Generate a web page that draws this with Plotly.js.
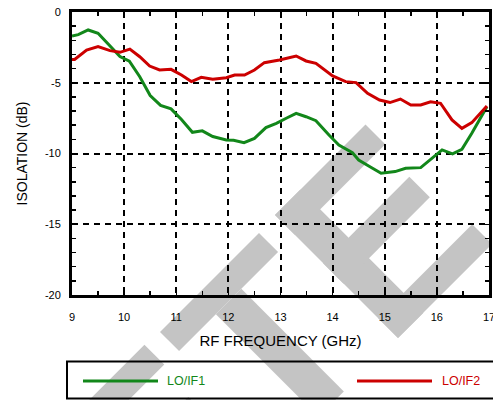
<!DOCTYPE html>
<html>
<head>
<meta charset="utf-8">
<script src="https://cdn.plot.ly/plotly-3.0.1.min.js"></script>
<style>
  html, body { margin: 0; padding: 0; background: #fff; }
  #chart { width: 493px; height: 400px; }
</style>
</head>
<body>
<div id="chart"></div>
<script>
// ---- data ----
const seriesNames = ['LO/IF1', 'LO/IF2'];
const seriesColors = ['#12871a', '#cc0000'];

const freqIF1 = [9.0, 9.12, 9.31, 9.5, 9.92, 10.1, 10.3, 10.5, 10.7, 10.9, 11.1, 11.31, 11.5, 11.7, 11.96, 12.1, 12.3,
  12.5, 12.72, 12.92, 13.11, 13.3, 13.49, 13.68, 13.93, 14.12, 14.38, 14.5, 14.7, 14.93, 15.2, 15.4, 15.69, 15.85,
  16.1, 16.3, 16.48, 16.67, 16.96];
const isoIF1 = [-1.7, -1.6, -1.27, -1.5, -3.15, -3.48, -4.57, -5.9, -6.6, -6.85, -7.6, -8.5, -8.4, -8.8, -9.05, -9.07, -9.23,
  -8.93, -8.17, -7.87, -7.51, -7.16, -7.4, -7.68, -8.69, -9.4, -9.95, -10.46, -10.9, -11.4, -11.28, -11.05, -11.0, -10.5,
  -9.75, -10.03, -9.7, -8.57, -6.69];

const freqIF2 = [9.0, 9.05, 9.28, 9.5, 9.73, 9.92, 10.11, 10.3, 10.49, 10.68, 10.9, 11.1, 11.29, 11.48, 11.7, 11.96, 12.12,
  12.31, 12.5, 12.69, 12.98, 13.14, 13.3, 13.49, 13.68, 14.0, 14.25, 14.45, 14.67, 14.9, 15.1, 15.3, 15.5, 15.69, 15.88,
  16.07, 16.29, 16.48, 16.67, 16.96];
const isoIF2 = [-3.35, -3.35, -2.69, -2.45, -2.73, -2.85, -2.62, -3.16, -3.82, -4.1, -4.05, -4.45, -4.92, -4.62, -4.76, -4.64, -4.45,
  -4.45, -4.1, -3.58, -3.39, -3.23, -3.11, -3.46, -3.63, -4.52, -4.92, -4.99, -5.75, -6.22, -6.4, -6.15, -6.57, -6.57, -6.34,
  -6.45, -7.63, -8.22, -7.82, -6.64];

const xTickVals = [9, 10, 11, 12, 13, 14, 15, 16, 17];
const yTickVals = [0, -5, -10, -15, -20];

// ---- layout geometry (pixels) ----
const W = 493, H = 400;
const M = {l: 72, r: 4, t: 12, b: 105};
const PW = W - M.l - M.r, PH = H - M.t - M.b;
const px2x = p => (p - M.l) / PW;
const py2y = p => (H - M.b - p) / PH;

// ---- watermark (decorative, rotated block letters) ----
const wmColor = '#c4c4c4';
const S = Math.SQRT1_2;
function letterRects(du, dv, rects) {
  return rects.map(r => [r[0] + du, r[1] + du, r[2] + dv, r[3] + dv]);
}
const eRects = [[0, 36, 0, 174], [0, 128, 0, 28], [0, 122, 68, 97], [0, 133, 146, 174]];
const tRects = [[0, 140, 0, 27], [52, 88, 27, 172]];
const wmOrigin = [160, 332];
const allRects = []
  .concat(letterRects(-148, -2, eRects))
  .concat(letterRects(0, 0, tRects))
  .concat(letterRects(164, -1.4, eRects));
function uvToPaper(u, v) {
  const sx = wmOrigin[0] + (u + v) * S;
  const sy = wmOrigin[1] + (v - u) * S;
  return [px2x(sx), py2y(sy)];
}
const wmShapes = allRects.map(r => {
  const pts = [[r[0], r[2]], [r[1], r[2]], [r[1], r[3]], [r[0], r[3]]].map(p => uvToPaper(p[0], p[1]));
  const path = 'M' + pts.map(p => p[0].toFixed(5) + ',' + p[1].toFixed(5)).join(' L') + ' Z';
  return {type: 'path', xref: 'paper', yref: 'paper', path: path, fillcolor: wmColor,
          line: {width: 0}, layer: 'below'};
});

// ---- legend drawn as a boxed row ----
const legY = py2y(381);
const legendShapes = [
  {type: 'rect', xref: 'paper', yref: 'paper', x0: px2x(67), x1: px2x(505), y0: py2y(398.5), y1: py2y(361.5),
   line: {color: '#000', width: 2}, fillcolor: 'rgba(0,0,0,0)', layer: 'above'},
  {type: 'line', xref: 'paper', yref: 'paper', x0: px2x(83), x1: px2x(158), y0: legY, y1: legY,
   line: {color: seriesColors[0], width: 3}, layer: 'above'},
  {type: 'line', xref: 'paper', yref: 'paper', x0: px2x(357), x1: px2x(432), y0: legY, y1: legY,
   line: {color: seriesColors[1], width: 3}, layer: 'above'}
];
const legendAnn = [
  {xref: 'paper', yref: 'paper', x: px2x(165), y: legY, xanchor: 'left', yanchor: 'middle', showarrow: false,
   text: seriesNames[0], font: {family: 'Liberation Sans, Arial, sans-serif', size: 12.5, color: seriesColors[0]}},
  {xref: 'paper', yref: 'paper', x: px2x(440), y: legY, xanchor: 'left', yanchor: 'middle', showarrow: false,
   text: seriesNames[1], font: {family: 'Liberation Sans, Arial, sans-serif', size: 12.5, color: seriesColors[1]}}
];

const traces = [
  {x: freqIF1, y: isoIF1, name: seriesNames[0], type: 'scatter', mode: 'lines',
   line: {color: seriesColors[0], width: 3}},
  {x: freqIF2, y: isoIF2, name: seriesNames[1], type: 'scatter', mode: 'lines',
   line: {color: seriesColors[1], width: 3}}
];

const fontFam = 'Liberation Sans, Arial, Helvetica, sans-serif';
const axisCommon = {
  showline: true, linecolor: '#000', linewidth: 3, mirror: 'allticks',
  showgrid: true, gridcolor: '#000', gridwidth: 2, griddash: '6px,5px',
  zeroline: false, ticks: 'inside', ticklen: 4, tickwidth: 1.5, tickcolor: '#000',
  ticklabeloverflow: 'allow',
  tickfont: {family: fontFam, size: 11, color: '#000'}
};

const layout = {
  width: W, height: H,
  margin: M,
  paper_bgcolor: '#fff', plot_bgcolor: 'rgba(0,0,0,0)',
  showlegend: false,
  xaxis: Object.assign({}, axisCommon, {
    range: [9, 17], tickvals: xTickVals, ticktext: xTickVals.map(String),
    ticklabelstandoff: 10,
    minor: {dtick: 0.5, ticks: 'inside', ticklen: 4, tickwidth: 1.5, tickcolor: '#000', showgrid: false},
    title: {text: 'RF FREQUENCY (GHz)', font: {family: fontFam, size: 15, color: '#000'}, standoff: 14}
  }),
  yaxis: Object.assign({}, axisCommon, {
    range: [-20, 0], tickvals: yTickVals, ticktext: yTickVals.map(String),
    ticklabelstandoff: 6,
    minor: {dtick: 1, ticks: 'inside', ticklen: 4, tickwidth: 1.5, tickcolor: '#000', showgrid: false},
    title: {text: 'ISOLATION (dB)', font: {family: fontFam, size: 14, color: '#000'}, standoff: 14}
  }),
  shapes: wmShapes.concat(legendShapes),
  annotations: legendAnn
};

Plotly.newPlot('chart', traces, layout, {displayModeBar: false, staticPlot: true});
</script>
</body>
</html>
